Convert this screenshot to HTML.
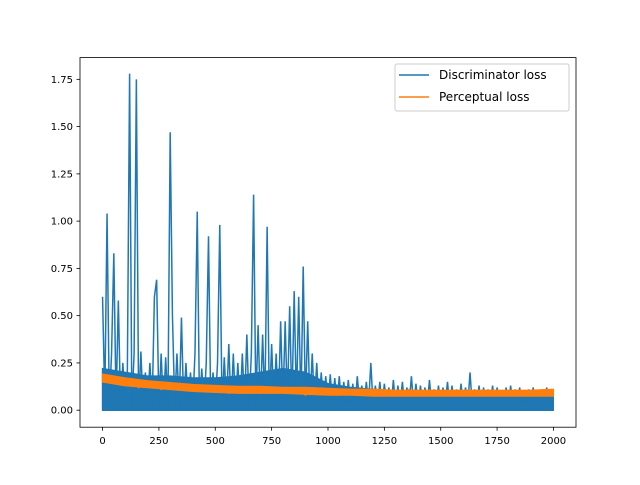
<!DOCTYPE html>
<html><head><meta charset="utf-8"><style>
body{margin:0;background:#fff;}
svg text{font-family:"DejaVu Sans","Liberation Sans",sans-serif;font-size:10px;fill:#000;}
</style></head><body>
<svg id="chart" width="640" height="480" xmlns="http://www.w3.org/2000/svg">
<rect width="640" height="480" fill="#fff"/>
<g id="plot"></g>
<rect x="80" y="57.6" width="496" height="369.6" fill="none" stroke="#000" stroke-width="0.8"/>
<g id="ticks"></g>
<g>
<rect x="395" y="64" width="174" height="47" rx="2" fill="#fff" fill-opacity="0.8" stroke="#ccc" stroke-width="1"/>
<line x1="399" y1="75" x2="429" y2="75" stroke="#1f77b4" stroke-width="1.5"/>
<text x="439" y="79" style="font-size:12px">Discriminator loss</text>
<line x1="399" y1="97" x2="429" y2="97" stroke="#ff7f0e" stroke-width="1.5"/>
<text x="439" y="101" style="font-size:12px">Perceptual loss</text>
</g>
</svg>
<script>
const discStep = 10;
const discValues = [0.6,0.05,1.04,0.02,0.3,0.83,0.03,0.58,0.02,0.25,
0.03,0.2,1.78,0.02,0.3,1.75,0.01,0.31,0.02,0.2,
0.03,0.25,0.02,0.6,0.69,0.02,0.3,0.01,0.28,0.02,
1.47,0.5,0.03,0.3,0.01,0.49,0.02,0.25,0.01,0.2,
0.02,0.3,1.05,0.01,0.22,0.02,0.25,0.92,0.01,0.2,
0.02,0.25,0.98,0.01,0.28,0.02,0.35,0.01,0.3,0.02,
0.25,0.01,0.3,0.02,0.4,0.01,0.3,1.14,0.02,0.45,
0.01,0.4,0.02,0.97,0.01,0.35,0.02,0.3,0.01,0.47,
0.02,0.47,0.03,0.55,0.02,0.63,0.03,0.6,0.02,0.76,
0.03,0.47,0.02,0.3,0.03,0.25,0.02,0.2,0.03,0.18,
0.02,0.19,0.03,0.17,0.02,0.18,0.03,0.15,0.02,0.16,
0.03,0.14,0.02,0.18,0.03,0.13,0.02,0.15,0.03,0.25,
0.02,0.13,0.03,0.15,0.02,0.14,0.03,0.12,0.02,0.16,
0.02,0.13,0.03,0.15,0.02,0.12,0.03,0.18,0.02,0.14,
0.02,0.13,0.03,0.12,0.02,0.16,0.03,0.11,0.02,0.13,
0.02,0.12,0.03,0.15,0.02,0.13,0.03,0.11,0.02,0.14,
0.02,0.12,0.03,0.2,0.02,0.11,0.03,0.13,0.02,0.12,
0.02,0.11,0.03,0.13,0.02,0.12,0.03,0.1,0.02,0.12,
0.02,0.13,0.03,0.11,0.02,0.12,0.03,0.1,0.02,0.11,
0.02,0.12,0.03,0.1,0.02,0.11,0.03,0.12,0.02,0.1];
// dense noise envelope of discriminator loss (per 100 iterations)
const bandStep = 100;
const discBandLow = [0.0,0.0,0.0,0.0,0.0,0.0,0.0,0.0,0.0,0.0,0.0,0.0,0.0,0.0,0.0,0.0,0.0,0.0,0.0,0.0,0.0];
const discBandHigh = [0.22,0.2,0.18,0.18,0.17,0.17,0.18,0.2,0.22,0.2,0.14,0.12,0.11,0.1,0.1,0.1,0.1,0.1,0.1,0.1,0.1];
const percBandLow = [0.15,0.13,0.12,0.11,0.1,0.095,0.09,0.09,0.09,0.085,0.08,0.08,0.075,0.075,0.075,0.075,0.075,0.075,0.075,0.075,0.075];
const percBandHigh = [0.19,0.17,0.155,0.145,0.135,0.13,0.125,0.125,0.12,0.12,0.115,0.11,0.11,0.105,0.105,0.105,0.105,0.105,0.105,0.105,0.11];
const percStep = 20;
const percValues = [0.18,0.16,0.15,0.17,0.14,0.15,0.13,0.15,0.12,0.14,
0.13,0.12,0.14,0.11,0.13,0.12,0.11,0.13,0.12,0.11,
0.12,0.1,0.12,0.11,0.1,0.12,0.1,0.11,0.09,0.11,
0.1,0.12,0.09,0.1,0.11,0.09,0.1,0.11,0.09,0.1,
0.1,0.09,0.11,0.09,0.1,0.08,0.1,0.09,0.1,0.11,
0.09,0.1,0.08,0.1,0.09,0.1,0.08,0.09,0.1,0.08,
0.09,0.1,0.08,0.1,0.09,0.08,0.1,0.09,0.11,0.08,
0.09,0.1,0.08,0.09,0.1,0.08,0.09,0.1,0.08,0.09,
0.1,0.08,0.09,0.1,0.08,0.09,0.1,0.08,0.09,0.1,
0.08,0.09,0.1,0.08,0.09,0.1,0.08,0.09,0.1,0.09];
const xTicks = [0,250,500,750,1000,1250,1500,1750,2000];
const yTicks = [0,0.25,0.5,0.75,1.0,1.25,1.5,1.75];
const yTickLabels = ["0.00","0.25","0.50","0.75","1.00","1.25","1.50","1.75"];

const X0=80,X1=576,Y0=427.2,Y1=57.6, xmin=-100,xmax=2100,ymin=-0.09,ymax=1.865;
function sx(v){return X0+(v-xmin)/(xmax-xmin)*(X1-X0);}
function sy(v){return Y0-(v-ymin)/(ymax-ymin)*(Y0-Y1);}
const NS="http://www.w3.org/2000/svg";
const plot=document.getElementById('plot'), ticks=document.getElementById('ticks');
function band(low,high,step,color,name){
  const pts=high.map((v,i)=>sx(Math.min(i*step,1999)).toFixed(2)+','+sy(v).toFixed(2));
  for(let i=low.length-1;i>=0;i--) pts.push(sx(Math.min(i*step,1999)).toFixed(2)+','+sy(low[i]).toFixed(2));
  const p=document.createElementNS(NS,'polygon');
  p.setAttribute('points',pts.join(' '));
  p.setAttribute('fill',color);p.setAttribute('stroke',color);p.setAttribute('stroke-width','1.5');
  
  
  plot.appendChild(p);
}
function line(vals,step,color,name){
  const p=document.createElementNS(NS,'polyline');
  p.setAttribute('points',vals.map((v,i)=>sx(i*step).toFixed(2)+','+sy(v).toFixed(2)).join(' '));
  p.setAttribute('fill','none');p.setAttribute('stroke',color);p.setAttribute('stroke-width','1.5');
  
  
  plot.appendChild(p);
}
band(discBandLow,discBandHigh,bandStep,'#1f77b4','discriminator-noise-band');
line(discValues,discStep,'#1f77b4','discriminator-loss-line');
band(percBandLow,percBandHigh,bandStep,'#ff7f0e','perceptual-noise-band');
line(percValues,percStep,'#ff7f0e','perceptual-loss-line');
xTicks.forEach(t=>{
  const x=sx(t);
  const l=document.createElementNS(NS,'line');
  l.setAttribute('x1',x);l.setAttribute('x2',x);l.setAttribute('y1',Y0);l.setAttribute('y2',Y0+3.5);l.setAttribute('stroke','#000');l.setAttribute('stroke-width','0.8');
  ticks.appendChild(l);
  const tx=document.createElementNS(NS,'text');
  tx.setAttribute('x',x);tx.setAttribute('y',Y0+17);tx.setAttribute('text-anchor','middle');tx.textContent=t;
  
  
  ticks.appendChild(tx);
});
yTicks.forEach((t,i)=>{
  const y=sy(t);
  const l=document.createElementNS(NS,'line');
  l.setAttribute('x1',X0-3.5);l.setAttribute('x2',X0);l.setAttribute('y1',y);l.setAttribute('y2',y);l.setAttribute('stroke','#000');l.setAttribute('stroke-width','0.8');
  ticks.appendChild(l);
  const tx=document.createElementNS(NS,'text');
  tx.setAttribute('x',X0-7);tx.setAttribute('y',y+3.5);tx.setAttribute('text-anchor','end');tx.textContent=yTickLabels[i];
  
  
  ticks.appendChild(tx);
});
</script>
</body></html>
